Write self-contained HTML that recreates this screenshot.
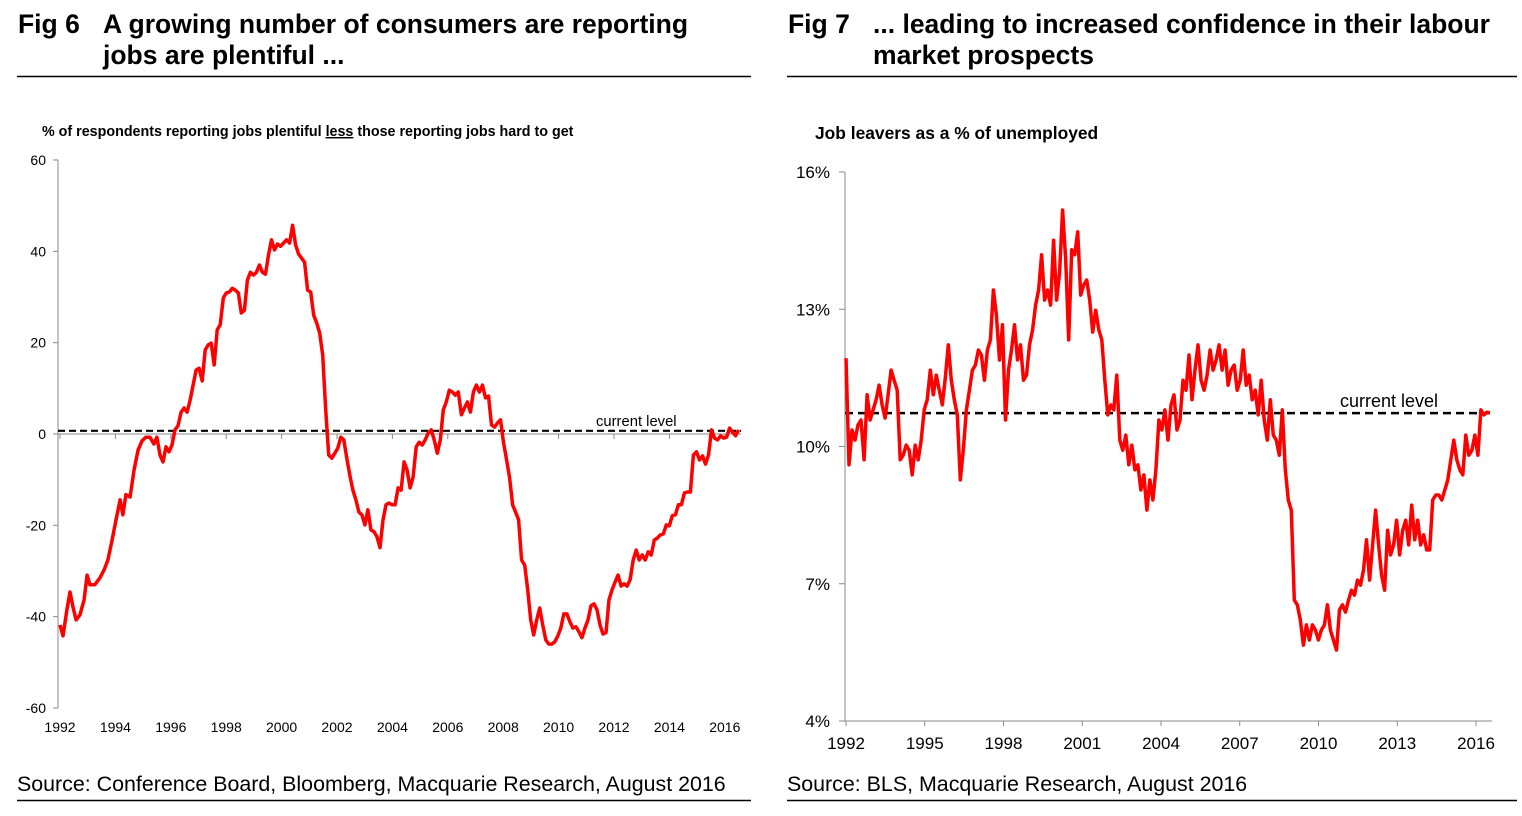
<!DOCTYPE html>
<html><head><meta charset="utf-8"><style>
body{margin:0;background:#fff;width:1522px;height:816px;overflow:hidden;font-family:"Liberation Sans",Arial,sans-serif;}
svg{position:absolute;left:0;top:0}
</style></head><body>
<svg id="s" width="1522" height="816">
<g font-weight="bold" font-size="26.5" fill="#000">
<text x="18" y="33">Fig 6</text>
<text x="103" y="33">A growing number of consumers are reporting</text>
<text x="103" y="64">jobs are plentiful ...</text>
</g>
<line x1="17" y1="76.5" x2="751" y2="76.5" stroke="#000" stroke-width="1.5"/>
<g font-weight="bold" font-size="26.5" fill="#000">
<text x="788" y="33">Fig 7</text>
<text x="873" y="33">... leading to increased confidence in their labour</text>
<text x="873" y="64">market prospects</text>
</g>
<line x1="787" y1="76.5" x2="1517" y2="76.5" stroke="#000" stroke-width="1.5"/>
<text x="42" y="136" font-size="14.3" font-weight="bold">% of respondents reporting jobs plentiful <tspan text-decoration="underline">less</tspan> those reporting jobs hard to get</text>
<text x="815" y="139" font-size="17.4" font-weight="bold">Job leavers as a % of unemployed</text>
<text x="17" y="791" font-size="21.4">Source: Conference Board, Bloomberg, Macquarie Research, August 2016</text>
<line x1="17" y1="800.5" x2="751" y2="800.5" stroke="#000" stroke-width="1.5"/>
<text x="787" y="791" font-size="21.4">Source: BLS, Macquarie Research, August 2016</text>
<line x1="787" y1="800.5" x2="1517" y2="800.5" stroke="#000" stroke-width="1.5"/>
<g id="c1"></g>
<g id="c2"></g>
</svg>
<script>
// Fig 6 data
const f6End=2016.5;
const f6YTicks=[60,40,20,0,-20,-40,-60];
const f6XTicks=[1992,1994,1996,1998,2000,2002,2004,2006,2008,2010,2012,2014,2016];
const f6Current=0.7;
// explicit dates for the first observations; remaining observations evenly spaced up to f6End
const f6EarlyYears=[1992.0,1992.11,1992.25,1992.36,1992.47,1992.58,1992.72,1992.87,1992.98,1993.08,1993.26,1993.44,1993.59,1993.73,1993.88,1994.02,1994.17,1994.27,1994.38,1994.53,1994.67,1994.82,1994.96,1995.1,1995.25,1995.39,1995.5];
const f6Values=[-41.8,-44.2,-38.5,-34.6,-37.9,-40.7,-39.6,-36.3,-30.9,-33,-33,-31.5,-29.8,-27.6,-23.2,-18.8,-14.4,-17.7,-13.3,-13.8,-7.9,-3.5,-1.5,-0.7,-0.7,-2.2,-0.7,-4.6,-6.1,-2.8,-3.9,-2.4,0.9,1.8,4.8,5.7,4.8,7.4,10.7,14,14.4,11.6,18.4,19.5,19.9,15.1,22.8,23.9,29.8,30.9,31.1,31.9,31.5,30.9,26.5,27.1,33.7,35.4,34.8,35.4,37,35.4,35,39.2,42.5,40.3,41.6,41.1,41.8,42.5,41.8,45.7,41.4,39.4,38.5,37.6,31.5,31.1,26,24.3,22.1,17.3,5.3,-4.6,-5.3,-4.2,-3.1,-0.7,-1.3,-5.3,-9,-12.3,-14.4,-17.1,-17.7,-19.9,-16.6,-21,-21.4,-22.5,-24.9,-18.8,-15.5,-15.1,-15.5,-15.5,-11.8,-12.3,-6.1,-7.9,-11.8,-9.4,-2.8,-1.8,-2.4,-1.3,0.2,0.9,-1.3,-4.2,-1.3,5.3,7,9.6,9.2,8.5,9.2,4.2,5.7,7,4.8,9.2,10.7,9.2,10.7,7.9,8.3,2,1.5,2.4,3.1,-2,-5.7,-9.6,-15.5,-17.1,-18.8,-27.6,-28.7,-34.1,-40.7,-44,-40.7,-38.1,-41.8,-45.1,-46,-46,-45.5,-44.2,-42.5,-39.4,-39.4,-41.1,-42.5,-42.2,-43.3,-44.6,-42.5,-40.7,-37.6,-37.2,-38.5,-41.8,-43.8,-43.5,-36.3,-34.1,-32.4,-30.9,-33.3,-32.8,-33.3,-31.9,-27.6,-25.4,-27.6,-26.5,-27.6,-25.8,-26.5,-23.2,-22.8,-22.1,-21.9,-19.9,-20.1,-17.9,-17.7,-15.5,-15.5,-12.9,-12.7,-12.7,-4.6,-3.9,-5.7,-4.8,-6.6,-4.6,0.9,-0.9,-1.3,-0.4,-0.9,-0.7,1.3,0.4,-0.4,0.9];
// Fig 7 data
const f7Start=1992, f7End=2016.53;
const f7YTicks=[16,13,10,7,4];
const f7XTicks=[1992,1995,1998,2001,2004,2007,2010,2013,2016];
const f7Current=10.73;
const f7Values=[11.93,9.60,10.36,10.14,10.47,10.58,9.71,11.13,10.58,10.80,11.02,11.34,10.91,10.62,11.13,11.67,11.45,11.23,9.71,9.81,10.03,9.92,9.38,10.03,9.71,10.14,10.80,11.02,11.67,11.13,11.56,11.23,10.91,11.50,12.22,11.45,11.02,10.69,9.27,9.92,10.80,11.23,11.67,11.78,12.11,12.00,11.45,12.11,12.33,13.42,12.87,11.89,12.66,10.58,11.67,12.11,12.66,11.89,12.22,11.45,11.56,12.22,12.55,13.09,13.42,14.19,13.20,13.42,13.09,14.51,13.20,13.81,15.17,14.08,12.33,14.30,14.19,14.69,13.31,13.53,13.64,13.20,12.50,12.98,12.55,12.33,11.45,10.69,10.91,10.80,11.56,10.14,9.92,10.25,9.60,10.03,9.49,9.60,9.05,9.38,8.61,9.27,8.83,9.49,10.58,10.36,10.80,10.14,10.91,11.13,10.36,10.58,11.45,11.23,12.00,11.02,11.67,12.22,11.45,11.23,11.56,12.11,11.67,11.89,12.22,11.67,12.11,11.34,11.67,11.78,11.23,11.45,12.11,11.34,11.56,11.02,11.23,10.69,11.45,10.58,10.14,11.02,10.25,10.14,9.81,10.80,9.49,8.83,8.61,6.64,6.54,6.21,5.66,6.10,5.77,6.10,5.99,5.77,5.99,6.10,6.54,5.99,5.77,5.55,6.43,6.54,6.38,6.64,6.86,6.75,7.08,6.97,7.30,7.96,7.08,7.85,8.61,7.85,7.19,6.86,8.17,7.63,7.85,8.39,7.63,8.17,8.39,7.85,8.72,7.96,8.39,7.85,8.07,7.74,7.74,8.83,8.94,8.94,8.83,9.05,9.27,9.71,10.14,9.71,9.49,9.38,10.25,9.81,9.92,10.25,9.81,10.80,10.69,10.75,10.73];

const NS="http://www.w3.org/2000/svg";
function mk(parent,tag,attrs){const e=document.createElementNS(NS,tag);for(const k in attrs)e.setAttribute(k,attrs[k]);parent.appendChild(e);return e;}

// Fig 6 axes
const c1=document.getElementById('c1');
const x6=y=>60+(y-1992)*27.7;
const y6=v=>434-v*4.567;
let ax=mk(c1,'line',{x1:58,y1:y6(60),x2:58,y2:y6(-60),stroke:'#888','stroke-width':1});


f6YTicks.forEach(t=>{
  const tk=mk(c1,'line',{x1:53,y1:y6(t),x2:58,y2:y6(t),stroke:'#888'});
  
  
  const tx=mk(c1,'text',{x:46,y:y6(t)+5,'text-anchor':'end','font-size':14});
  tx.textContent=t;
  
  
});
let xa=mk(c1,'line',{x1:58,y1:y6(0),x2:741,y2:y6(0),stroke:'#888'});


f6XTicks.forEach(t=>{
  const tk=mk(c1,'line',{x1:x6(t),y1:y6(0),x2:x6(t),y2:y6(0)+5,stroke:'#888'});
  
  
  const tx=mk(c1,'text',{x:x6(t),y:732,'text-anchor':'middle','font-size':14});
  tx.textContent=t;
  
  
});
let cl=mk(c1,'line',{x1:58,y1:y6(f6Current),x2:741,y2:y6(f6Current),stroke:'#000','stroke-width':2.2,'stroke-dasharray':'7,4'});


let clt=mk(c1,'text',{x:596,y:y6(f6Current)-5,'font-size':14.8});
clt.textContent='current level';


const nE=f6EarlyYears.length, lastE=f6EarlyYears[nE-1];
const st6=(f6End-lastE)/(f6Values.length-nE);
const f6YearOf=i=>i<nE?f6EarlyYears[i]:lastE+(i-nE+1)*st6;
let p6=f6Values.map((v,i)=>(i?'L':'M')+x6(f6YearOf(i)).toFixed(1)+','+y6(v).toFixed(1)).join('');
let l6=mk(c1,'path',{d:p6,fill:'none',stroke:'#ff0000','stroke-width':3.5,'stroke-linejoin':'round'});



// Fig 7 axes
const c2=document.getElementById('c2');
const x7=y=>846+(y-1992)*26.25;
const y7=v=>721-(v-4)*45.75;
let ax2=mk(c2,'line',{x1:845,y1:y7(16),x2:845,y2:y7(4),stroke:'#888'});


f7YTicks.forEach(t=>{
  const tk=mk(c2,'line',{x1:839,y1:y7(t),x2:845,y2:y7(t),stroke:'#888'});
  
  
  const tx=mk(c2,'text',{x:830,y:y7(t)+6,'text-anchor':'end','font-size':17});
  tx.textContent=t+'%';
  
  
});
let xa2=mk(c2,'line',{x1:845,y1:y7(4),x2:1492,y2:y7(4),stroke:'#888'});


f7XTicks.forEach(t=>{
  const tk=mk(c2,'line',{x1:x7(t),y1:y7(4),x2:x7(t),y2:y7(4)+5,stroke:'#888'});
  
  
  const tx=mk(c2,'text',{x:x7(t),y:749,'text-anchor':'middle','font-size':17});
  tx.textContent=t;
  
  
});
let cl2=mk(c2,'line',{x1:845,y1:y7(f7Current),x2:1490,y2:y7(f7Current),stroke:'#000','stroke-width':2.5,'stroke-dasharray':'8,5'});


let clt2=mk(c2,'text',{x:1340,y:y7(f7Current)-6,'font-size':18});
clt2.textContent='current level';


let st7=(f7End-f7Start)/(f7Values.length-1);
let p7=f7Values.map((v,i)=>(i?'L':'M')+x7(f7Start+i*st7).toFixed(1)+','+y7(v).toFixed(1)).join('');
let l7=mk(c2,'path',{d:p7,fill:'none',stroke:'#ff0000','stroke-width':3.5,'stroke-linejoin':'round'});


</script>
</body></html>
